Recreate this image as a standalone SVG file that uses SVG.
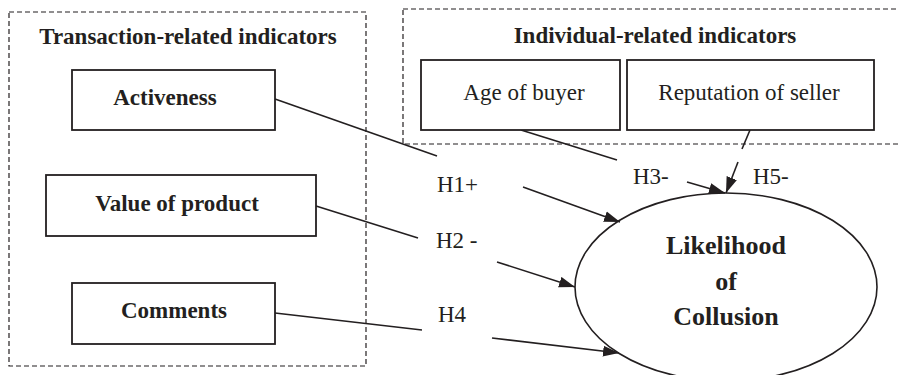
<svg xmlns="http://www.w3.org/2000/svg" width="898" height="375" viewBox="0 0 898 375">
<style>
.grp{fill:none;stroke:#231f20;stroke-width:1.2;stroke-dasharray:5 3}
.box{fill:#fff;stroke:#231f20;stroke-width:1.8}
.b{font-family:"Liberation Serif","Times New Roman",serif;font-weight:bold;font-size:23px;fill:#231f20;text-anchor:middle}
.r{font-family:"Liberation Serif","Times New Roman",serif;font-size:23px;fill:#231f20;text-anchor:middle}
.lbl{font-family:"Liberation Serif","Times New Roman",serif;font-size:23px;fill:#231f20}
.big{font-family:"Liberation Serif","Times New Roman",serif;font-weight:bold;font-size:26px;fill:#231f20;text-anchor:middle}
.ln{fill:none;stroke:#231f20;stroke-width:1.6}
</style>
<defs>
<marker id="ah" markerUnits="userSpaceOnUse" markerWidth="17" markerHeight="12" refX="16" refY="6" orient="auto">
<path d="M0,0.5 L16,6 L0,11.5 z" fill="#231f20"/>
</marker>
</defs>
<rect width="898" height="375" fill="#fff"/>
<g id="group-transaction">
<rect class="grp" x="9" y="12" width="357" height="354"/>
<text class="b" x="188" y="44">Transaction-related indicators</text>
</g>
<g id="group-individual">
<rect class="grp" x="403" y="9" width="500" height="135"/>
<text class="b" x="655" y="43">Individual-related indicators</text>
</g>
<g id="connectors">
<line class="ln" x1="275" y1="99" x2="437" y2="156"/>
<line class="ln" x1="523" y1="187" x2="620" y2="222" marker-end="url(#ah)"/>
<line class="ln" x1="316" y1="206" x2="418" y2="238"/>
<line class="ln" x1="497" y1="262" x2="575" y2="287" marker-end="url(#ah)"/>
<line class="ln" x1="275" y1="313" x2="422" y2="330"/>
<line class="ln" x1="492" y1="338" x2="619" y2="353" marker-end="url(#ah)"/>
<line class="ln" x1="521" y1="130" x2="617" y2="160"/>
<line class="ln" x1="687" y1="182" x2="725" y2="193" marker-end="url(#ah)"/>
<line class="ln" x1="750" y1="130" x2="742" y2="149"/>
<line class="ln" x1="738" y1="162" x2="726" y2="193" marker-end="url(#ah)"/>
<text class="lbl" x="437" y="192">H1+</text>
<text class="lbl" x="436" y="248">H2 -</text>
<text class="lbl" x="438" y="322">H4</text>
<text class="lbl" x="633" y="184">H3-</text>
<text class="lbl" x="753" y="184">H5-</text>
</g>
<g id="activeness">
<rect class="box" x="72" y="70" width="203" height="60"/>
<text class="b" x="165" y="105">Activeness</text>
</g>
<g id="value-of-product">
<rect class="box" x="46" y="175" width="270" height="61"/>
<text class="b" x="177" y="211">Value of product</text>
</g>
<g id="comments">
<rect class="box" x="72" y="283" width="203" height="61"/>
<text class="b" x="174" y="318">Comments</text>
</g>
<g id="age-of-buyer">
<rect class="box" x="421" y="60" width="199" height="70"/>
<text class="r" x="524" y="100">Age of buyer</text>
</g>
<g id="reputation-of-seller">
<rect class="box" x="627" y="60" width="247" height="70"/>
<text class="r" x="749" y="100">Reputation of seller</text>
</g>
<g id="likelihood">
<ellipse cx="726" cy="287" rx="151" ry="94" fill="none" stroke="#231f20" stroke-width="1.6"/>
<text class="big" x="726" y="254">Likelihood</text>
<text class="big" x="726" y="290">of</text>
<text class="big" x="726" y="325">Collusion</text>
</g>
</svg>
